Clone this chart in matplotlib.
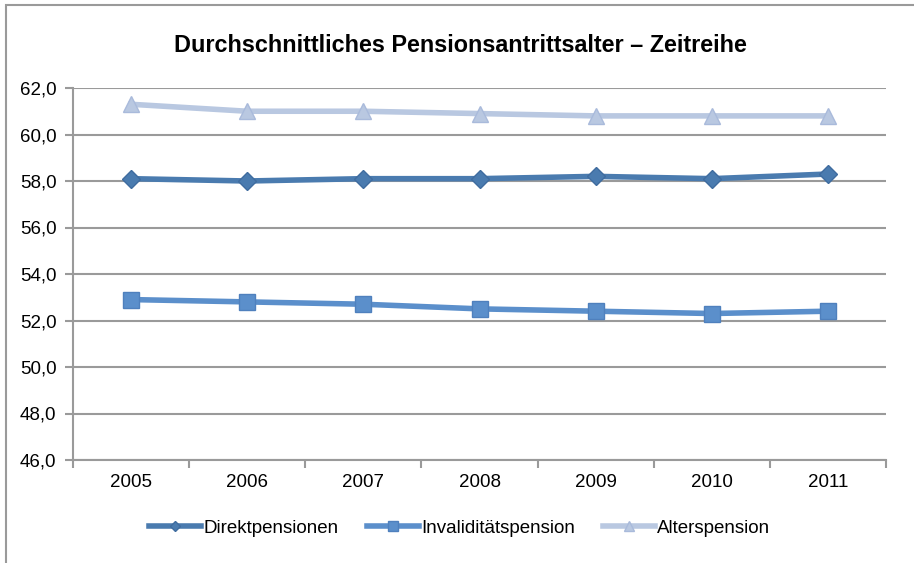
import matplotlib.pyplot as plt
from matplotlib.patches import Rectangle
from matplotlib.ticker import FixedLocator

years = ["2005", "2006", "2007", "2008", "2009", "2010", "2011"]
direkt = [58.1, 58.0, 58.1, 58.1, 58.2, 58.1, 58.3]
invalid = [52.9, 52.8, 52.7, 52.5, 52.4, 52.3, 52.4]
alter = [61.3, 61.0, 61.0, 60.9, 60.8, 60.8, 60.8]
yticks = [46, 48, 50, 52, 54, 56, 58, 60, 62]

plt.rcParams['font.family'] = ['Liberation Sans', 'DejaVu Sans']

fig = plt.figure(figsize=(9.14, 5.63), dpi=100)
ax = fig.add_axes([73 / 914, 103 / 563, 813 / 914, 372 / 563])

# outer chart border (only left and top are visible in the crop)
fig.patches.append(Rectangle((6 / 914, -0.1), 1.2, 1.1 - 5 / 563,
                             transform=fig.transFigure, fill=False,
                             edgecolor='#9a9a9a', linewidth=1.5, zorder=0))

x = list(range(len(years)))
ax.plot(x, direkt, color='#4A7BAF', linewidth=4, marker='D', markersize=9,
        markeredgecolor='#3F6C9F', label='Direktpensionen', zorder=3)
ax.plot(x, invalid, color='#5B8FCB', linewidth=4, marker='s', markersize=11,
        markeredgecolor='#4F80BD', label='Invaliditätspension', zorder=3)
ax.plot(x, alter, color='#B9C8E1', linewidth=4, marker='^', markersize=11,
        markeredgecolor='#A9BADB', label='Alterspension', zorder=3)

ax.set_xlim(-0.5, len(years) - 0.5)
ax.set_ylim(46, 62)
ax.set_yticks(yticks)
ax.set_yticklabels([f"{v:.1f}".replace('.', ',') for v in yticks], fontsize=13.5)
ax.set_xticks(x)
ax.set_xticklabels(years, fontsize=13.5)
ax.tick_params(axis='x', which='major', length=0, pad=10)
ax.xaxis.set_minor_locator(FixedLocator([i - 0.5 for i in range(len(years) + 1)]))
ax.tick_params(axis='x', which='minor', length=6, color='#9a9a9a', width=1.5)
ax.tick_params(axis='y', length=6, color='#9a9a9a', width=1.5, pad=6)

ax.grid(axis='y', color='#9a9a9a', linewidth=1.5)
ax.set_axisbelow(True)
for s in ['top', 'right']:
    ax.spines[s].set_visible(False)
for s in ['left', 'bottom']:
    ax.spines[s].set_color('#9a9a9a')
    ax.spines[s].set_linewidth(1.5)

fig.text(0.5 + 6 / 914 / 2, 1 - 45 / 563, 'Durchschnittliches Pensionsantrittsalter – Zeitreihe',
         ha='center', va='center', fontsize=16.8, fontweight='bold')

leg = fig.legend(loc='center', bbox_to_anchor=(0.503, 1 - 528 / 563), ncol=3, frameon=False,
                 fontsize=13.5, handlelength=2.8, columnspacing=1.5, handletextpad=0.1,
                 markerscale=0.6)

fig.savefig('out.png', dpi=100)
